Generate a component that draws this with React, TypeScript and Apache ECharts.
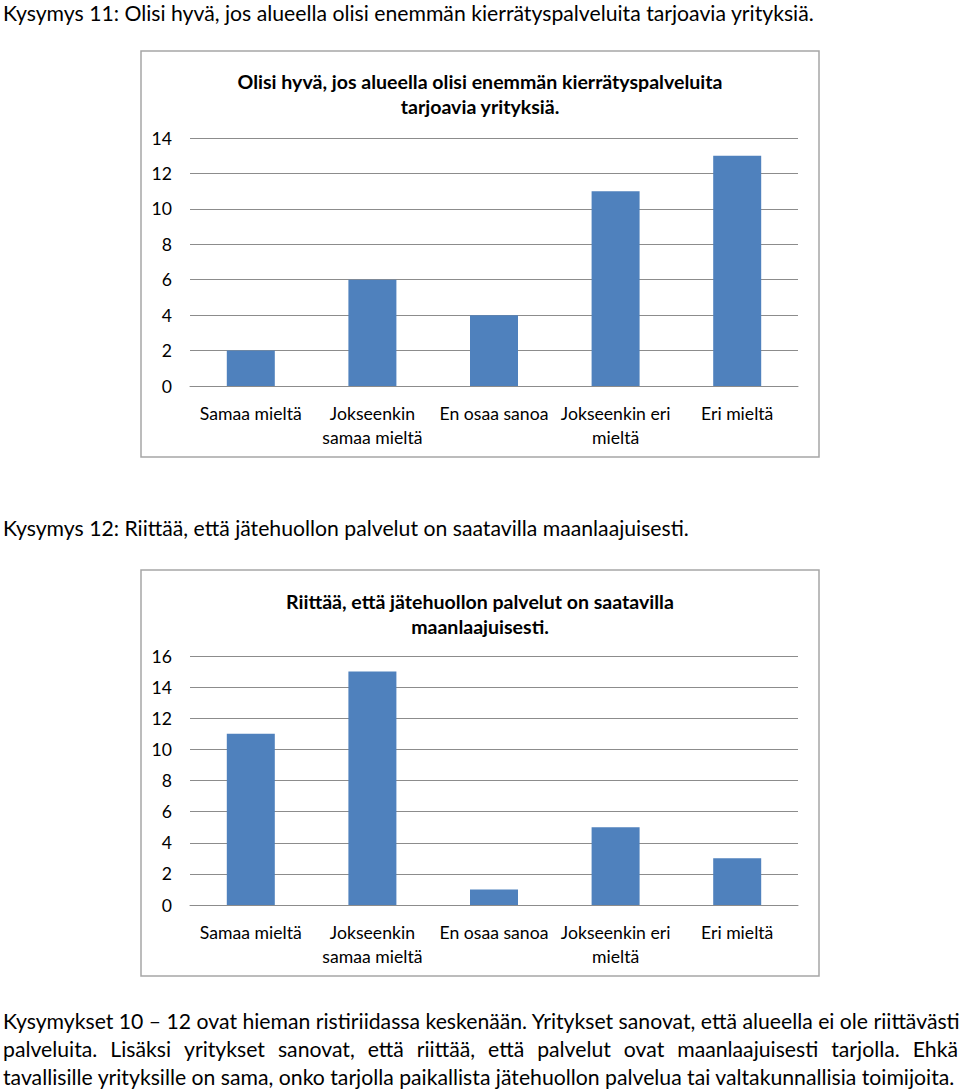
import React, { useEffect, useRef } from "react";
import * as echarts from "echarts";

const categories = ["Samaa mieltä", "Jokseenkin\nsamaa mieltä", "En osaa sanoa", "Jokseenkin eri\nmieltä", "Eri mieltä"];
const q11Values = [2, 6, 4, 11, 13];
const q12Values = [11, 15, 1, 5, 3];
const q11Ticks = { min: 0, max: 14, interval: 2 };
const q12Ticks = { min: 0, max: 16, interval: 2 };

const heading11 = "Kysymys 11: Olisi hyvä, jos alueella olisi enemmän kierrätyspalveluita tarjoavia yrityksiä.";
const heading12 = "Kysymys 12: Riittää, että jätehuollon palvelut on saatavilla maanlaajuisesti.";
const title11 = "Olisi hyvä, jos alueella olisi enemmän kierrätyspalveluita\ntarjoavia yrityksiä.";
const title12 = "Riittää, että jätehuollon palvelut on saatavilla\nmaanlaajuisesti.";
const paragraph = [
  "Kysymykset 10 – 12 ovat hieman ristiriidassa keskenään. Yritykset sanovat, että alueella ei ole riittävästi",
  "palveluita. Lisäksi yritykset sanovat, että riittää, että palvelut ovat maanlaajuisesti tarjolla. Ehkä",
  "tavallisille yrityksille on sama, onko tarjolla paikallista jätehuollon palvelua tai valtakunnallisia toimijoita.",
];

const FONT = "Lato, 'Open Sans', sans-serif";
const BLUE = "#4F81BD";
const GRID = "#8C8C8C";

function measure(text: string, size: number, weight = "normal") {
  const ctx = document.createElement("canvas").getContext("2d")!;
  ctx.font = `${weight} ${size}px Lato`;
  return ctx.measureText(text).width;
}
function fit(text: string, target: number, weight = "normal") {
  return (20 * target) / measure(text, 20, weight);
}

export default function App() {
  const ref = useRef<HTMLDivElement>(null);
  useEffect(() => {
    document.body.style.margin = "0";
    const chart = echarts.init(ref.current!, undefined, { renderer: "svg" });

    const docSize = fit(paragraph[2], 953);
    const titleSize = fit("Olisi hyvä, jos alueella olisi enemmän kierrätyspalveluita", 485, "bold");
    const labelSize = fit("Samaa mieltä", 102);

    const graphics: any[] = [];
    const docText = (text: string, x: number, y: number) => ({
      type: "text",
      x,
      y,
      style: { text, fontFamily: FONT, fontSize: docSize, fill: "#000", textVerticalAlign: "middle" },
    });
    graphics.push(docText(heading11, 3, 13));
    graphics.push(docText(heading12, 3, 528));
    graphics.push(docText(paragraph[0], 3, 1021));
    // justified line
    const words = paragraph[1].split(" ");
    const widths = words.map((w) => measure(w, docSize));
    const total = widths.reduce((a, b) => a + b, 0);
    const gap = (958 - 3 - total) / (words.length - 1);
    let cx = 3;
    words.forEach((w, i) => {
      graphics.push(docText(w, cx, 1049));
      cx += widths[i] + gap;
    });
    graphics.push(docText(paragraph[2], 3, 1077));

    // chart frames
    [51, 570].forEach((top) => {
      graphics.push({
        type: "rect",
        shape: { x: 141, y: top, width: 678, height: 406 },
        style: { fill: "none", stroke: "#A6A6A6", lineWidth: 1.5 },
        z: -1,
      });
    });

    const xAxisBase = (gridIndex: number) => ({
      type: "category",
      gridIndex,
      data: categories,
      axisLine: { show: true, lineStyle: { color: GRID, width: 1 } },
      axisTick: { show: false },
      axisLabel: {
        fontFamily: FONT,
        fontSize: labelSize,
        color: "#000",
        margin: 15,
        lineHeight: 24,
        interval: 0,
      },
    });
    const yAxisBase = (gridIndex: number, t: any) => ({
      type: "value",
      gridIndex,
      min: t.min,
      max: t.max,
      interval: t.interval,
      axisLine: { show: false },
      axisTick: { show: false },
      splitLine: { show: true, lineStyle: { color: GRID, width: 1 } },
      axisLabel: { fontFamily: FONT, fontSize: labelSize, color: "#000", margin: 18 },
    });

    chart.setOption({
      animation: false,
      backgroundColor: "#fff",
      title: [
        {
          text: title11,
          left: "center",
          top: 64,
          textStyle: { fontFamily: FONT, fontWeight: "bold", fontSize: titleSize, color: "#000", lineHeight: 25 },
        },
        {
          text: title12,
          left: "center",
          top: 584,
          textStyle: { fontFamily: FONT, fontWeight: "bold", fontSize: titleSize, color: "#000", lineHeight: 25 },
        },
      ],
      grid: [
        { left: 190, width: 608, top: 138, height: 248 },
        { left: 190, width: 608, top: 656, height: 249 },
      ],
      xAxis: [xAxisBase(0), xAxisBase(1)],
      yAxis: [yAxisBase(0, q11Ticks), yAxisBase(1, q12Ticks)],
      series: [
        { type: "bar", xAxisIndex: 0, yAxisIndex: 0, data: q11Values, barWidth: 48, itemStyle: { color: BLUE } },
        { type: "bar", xAxisIndex: 1, yAxisIndex: 1, data: q12Values, barWidth: 48, itemStyle: { color: BLUE } },
      ],
      graphic: graphics,
    });
    return () => chart.dispose();
  }, []);
  return <div ref={ref} style={{ position: "absolute", left: 0, top: 0, width: 960, height: 1090 }} />;
}
